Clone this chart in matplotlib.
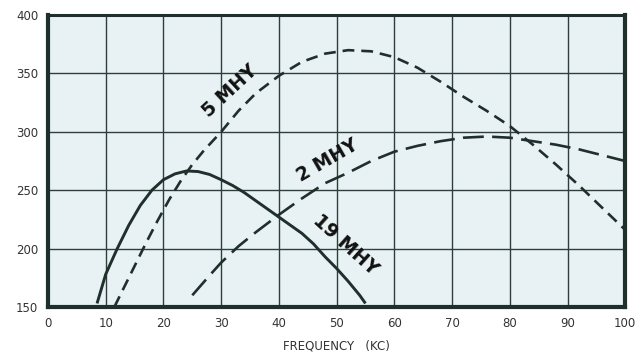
import matplotlib
matplotlib.use("Agg")
import matplotlib.pyplot as plt

plt.rcParams['lines.scale_dashes'] = False

# Frequency (kc) vs. response for three inductance values
freq_19 = [8.5, 10, 12, 14, 16, 18, 20, 22, 24, 26, 28, 30, 32, 34, 36, 38, 40,
           42, 44, 46, 48, 50, 52, 54, 55]
resp_19 = [153, 178, 200, 220, 237, 250, 259, 264, 266.5, 266, 263.5, 259, 254,
           248, 241, 234, 227, 220, 213, 204, 193, 183, 172, 160, 153]

freq_5 = [11.5, 13, 15, 17, 19, 21, 23, 25, 27, 30, 33, 36, 40, 44, 48, 52, 56,
          60, 64, 68, 72, 76, 80, 84, 88, 92, 96, 100]
resp_5 = [150, 165, 185, 205, 224, 242, 258, 272, 284, 300, 318, 333, 348, 360,
          367, 370, 369, 364, 355, 343, 330, 318, 305, 289, 272, 254, 235, 216]

freq_2 = [25, 28, 30, 33, 36, 40, 44, 48, 52, 56, 60, 64, 68, 72, 76, 80, 84,
          88, 92, 96, 100]
resp_2 = [160, 177, 188, 202, 214, 229, 243, 256, 265, 275, 283, 288, 292, 295,
          296, 295, 292, 289, 285, 280, 275]

x_ticks = [0, 10, 20, 30, 40, 50, 60, 70, 80, 90, 100]
y_ticks = [150, 200, 250, 300, 350, 400]

ink = '#1f2f2c'
fig = plt.figure(figsize=(6.38, 3.52), dpi=100)
ax = fig.add_axes([0.0752, 0.128, 0.9048, 0.829])
ax.set_facecolor('#e8f2f4')

ax.set_xlim(0, 100)
ax.set_ylim(150, 400)
ax.set_xticks(x_ticks)
ax.set_yticks(y_ticks)
ax.grid(True, color='#2f3d3b', linewidth=1.0)
ax.set_axisbelow(True)
ax.tick_params(length=0, labelsize=8.5, labelcolor='#333333', pad=7)
for side, lw in [('left', 3.0), ('bottom', 3.0), ('top', 2.2), ('right', 3.0)]:
    ax.spines[side].set_linewidth(lw)
    ax.spines[side].set_color(ink)

ax.plot(freq_19, resp_19, color=ink, linewidth=2.1, solid_capstyle='butt')
l5, = ax.plot(freq_5, resp_5, color=ink, linewidth=1.9)
l5.set_dashes((8.5, 5))
l2, = ax.plot(freq_2, resp_2, color=ink, linewidth=1.9)
l2.set_dashes((15, 6))

lab = dict(color='#111111', fontsize=13.5, fontweight='bold', ha='center',
           va='center', rotation_mode='anchor')
ax.text(31.6, 335, '5 MHY', rotation=43, **lab)
ax.text(48.4, 276, '2 MHY', rotation=30, **lab)
ax.text(51.6, 203, '19 MHY', rotation=-42, **lab)

ax.set_xlabel('FREQUENCY   (KC)', fontsize=8.5, color='#333333', labelpad=7)

fig.savefig('out.png', dpi=100, facecolor='white')
